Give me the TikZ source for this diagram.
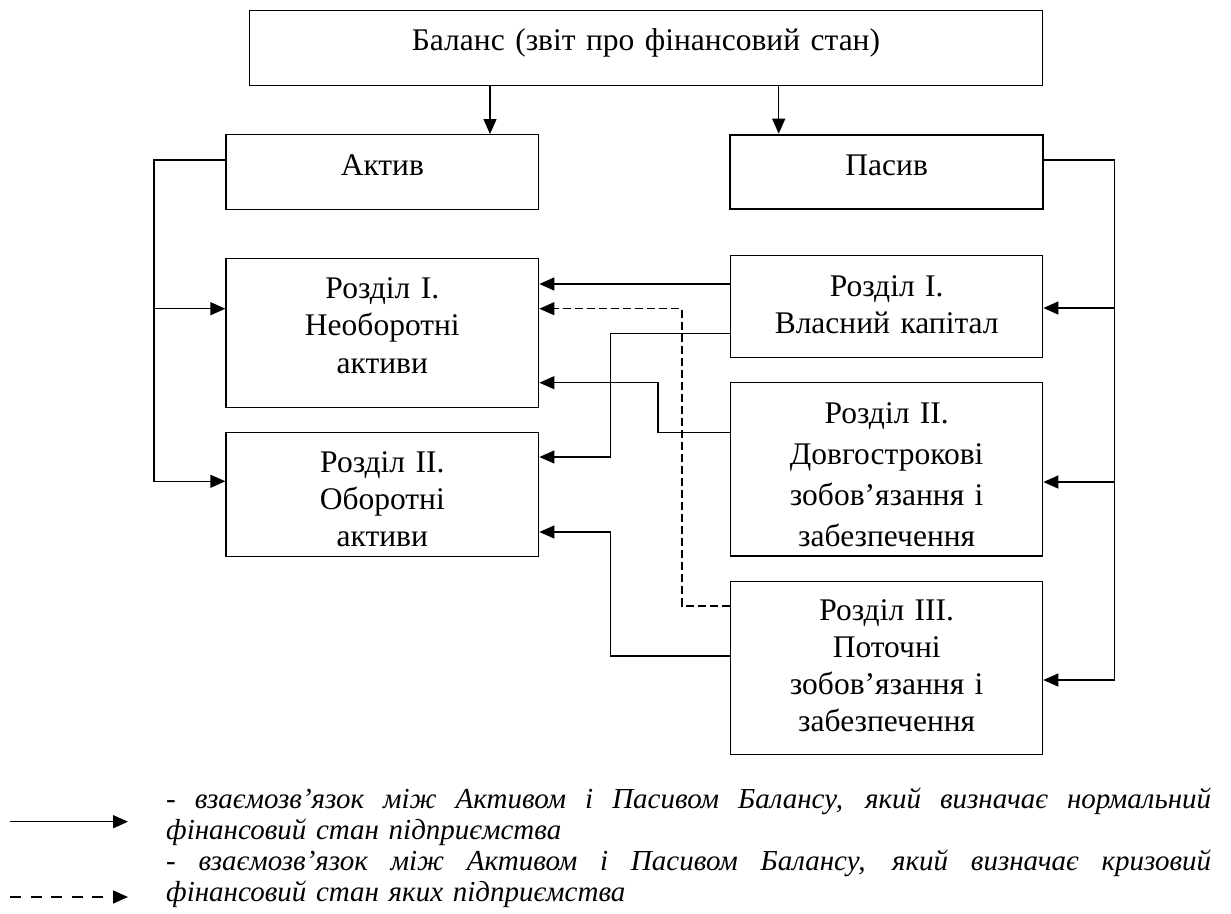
\documentclass[tikz,border=0pt]{standalone}
\usepackage{fontspec}
\setmainfont{Liberation Serif}
\usetikzlibrary{arrows.meta}
\setlength\parindent{0pt}

\begin{document}
\begin{tikzpicture}
[x=1pt,y=-1pt,
  boxdecorate/.style={shape=rectangle,draw,line width=1.3pt,inner sep=0pt},
  textdecorate/.style={inner sep=0pt,anchor=base,align=center,text width=480pt},
  linedecorate/.style={line width=1.3pt,-{Triangle[length=15pt,width=13pt]}},
  dashdecorate/.style={linedecorate,line width=1.1pt,dash pattern=on 8pt off 4pt}]
\useasboundingbox (0,0) rectangle (1231,913);
%% boxes
\foreach \nodename/\x/\y/\w/\h in {bal/646/48/793.4/74.6, akt/382.35/172/312.7/74.6,
  neob/382.35/333/312.7/148.6, obor/382.35/494.7/312.7/124, vlas/886.7/306.3/312/102,
  dovh/886.7/469.35/312/173.3, poto/886.7/668/312/173.4} {
  \node (\nodename) at (\x,\y) [boxdecorate,minimum width=\w pt,minimum height=\h pt] {};
}
\node (pas) at (886.65,172) [boxdecorate,line width=2pt,minimum width=313.3pt,minimum height=74.6pt] {};
%% texts
\foreach \nodename/\x/\y/\lh/\txt in {balt/646/50/37.5/{Баланс (звіт про фінансовий стан)},
  aktt/382.35/175/37.5/Актив, past/886.65/175/37.5/Пасив,
  neobt/382.35/298.3/37.5/{Розділ I.\\Необоротні\\активи},
  obort/382.35/472.7/37/{Розділ II.\\Оборотні\\активи},
  vlast/886.7/296/37.3/{Розділ I.\\Власний капітал},
  dovht/886.7/423.3/41.1/{Розділ II.\\Довгострокові\\зобов’язання і\\забезпечення},
  potot/886.7/620.7/37/{Розділ III.\\Поточні\\зобов’язання і\\забезпечення}} {
  \node (\nodename) at (\x,\y) [textdecorate,font=\fontsize{31.5}{\lh}\selectfont] {\txt};
}
%% connectors
\coordinate (lbtop) at (154,160);
\coordinate (lbmid) at (154,308.7);
\coordinate (lbbot) at (154,481.3);
\coordinate (rbtop) at (1114.3,160);
\coordinate (rbmid) at (1114.3,308);
\coordinate (rbdov) at (1114.3,482);
\coordinate (rbbot) at (1114.3,680);
\draw[linedecorate] (bal.south -| 490,0) -- (akt.north -| 490,0);
\draw[linedecorate] (bal.south -| 778.7,0) -- (pas.north -| 778.7,0);
\draw[linedecorate] (akt.west |- lbtop) -- (lbtop) -- (lbbot) -- (obor.west |- lbbot);
\draw[linedecorate] (lbmid) -- (neob.west |- lbmid);
\draw[linedecorate] (pas.east |- rbtop) -- (rbtop) -- (rbbot) -- (poto.east |- rbbot);
\draw[linedecorate] (rbmid) -- (vlas.east |- rbmid);
\draw[linedecorate] (rbdov) -- (dovh.east |- rbdov);
\draw[linedecorate,line width=1.5pt] (vlas.west |- 0,284) -- (neob.east |- 0,284);
\draw[dashdecorate] (poto.west |- 0,606) -- (682,606) -- (682,308.7) -- (neob.east |- 0,308.7);
\draw[linedecorate,line width=1.1pt] (vlas.west |- 0,333.3) -- (610.7,333.3) -- (610.7,457) -- (obor.east |- 0,457);
\draw[linedecorate,line width=1.1pt] (dovh.west |- 0,432.7) -- (658,432.7) -- (658,382.7) -- (neob.east |- 0,382.7);
\draw[linedecorate,line width=1.1pt] (poto.west |- 0,656) -- (610.7,656) -- (610.7,532) -- (obor.east |- 0,532);
%% legend
\coordinate (lgsa) at (10,821.7);
\coordinate (lgsb) at (128,821.7);
\coordinate (lgda) at (10,897);
\coordinate (lgdb) at (128,897);
\draw[linedecorate,line width=1.5pt] (lgsa) -- (lgsb);
\draw[linedecorate,line width=1.5pt,dash pattern=on 11pt off 9.5pt] (lgda) -- (lgdb);
\node (legend) at (166,808) [anchor=base west,inner sep=0pt,text width=1045pt,align=left,
  font=\fontsize{29}{31.2}\selectfont\itshape] {%
  \makebox[1045pt][s]{\spaceskip=0pt\relax - взаємозв’язок між Активом і Пасивом Балансу, який визначає нормальний}\\
  фінансовий стан підприємства\\
  \makebox[1045pt][s]{\spaceskip=0pt\relax - взаємозв’язок між Активом і Пасивом Балансу, який визначає кризовий}\\
  фінансовий стан яких підприємства};
\end{tikzpicture}
\end{document}
